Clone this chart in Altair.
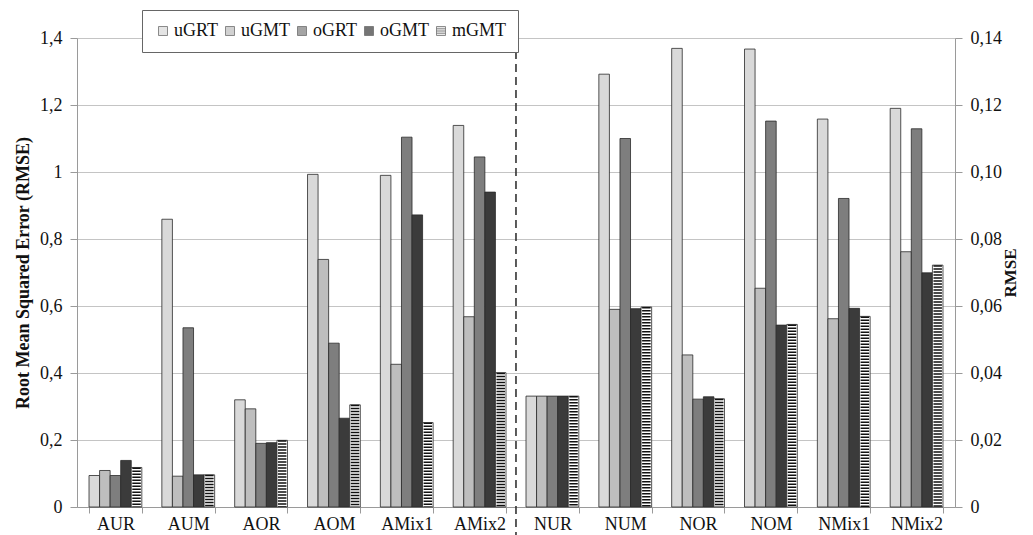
import altair as alt
import pandas as pd

categories = ["AUR", "AUM", "AOR", "AOM", "AMix1", "AMix2",
              "NUR", "NUM", "NOR", "NOM", "NMix1", "NMix2"]
sections = ["A"] * 6 + ["N"] * 6
series = ["uGRT", "uGMT", "oGRT", "oGMT", "mGMT"]

# A-groups read on the left axis (0-1.4), N-groups on the right axis (0-0.14)
uGRT = [0.094, 0.859, 0.320, 0.993, 0.990, 1.139, 0.0331, 0.1292, 0.1369, 0.1367, 0.1158, 0.1190]
uGMT = [0.109, 0.092, 0.293, 0.739, 0.426, 0.568, 0.0331, 0.0590, 0.0454, 0.0653, 0.0562, 0.0762]
oGRT = [0.094, 0.535, 0.190, 0.489, 1.104, 1.045, 0.0331, 0.1100, 0.0322, 0.1152, 0.0921, 0.1129]
oGMT = [0.139, 0.096, 0.192, 0.265, 0.872, 0.940, 0.0331, 0.0592, 0.0329, 0.0543, 0.0593, 0.0699]
mGMT = [0.118, 0.096, 0.199, 0.305, 0.252, 0.401, 0.0331, 0.0597, 0.0323, 0.0545, 0.0569, 0.0722]

left_ticks = [0, 0.2, 0.4, 0.6, 0.8, 1.0, 1.2, 1.4]
right_ticks = [0, 0.02, 0.04, 0.06, 0.08, 0.10, 0.12, 0.14]
fills = ["#d9d9d9", "#bebebe", "#7e7e7e", "#3b3b3b", "#ffffff"]
square_path = "M-1,-1H1V1H-1Z"
stripe_path = "M-1,-1H1V1H-1Z M-1,-0.6H1 M-1,-0.2H1 M-1,0.2H1 M-1,0.6H1"
shapes = [square_path, square_path, square_path, square_path, stripe_path]

rows = []
for s, vals in zip(series, [uGRT, uGMT, oGRT, oGMT, mGMT]):
    for c, sec, v in zip(categories, sections, vals):
        rows.append({"category": c, "section": sec, "series": s, "value": v, "zero": 0})
df = pd.DataFrame(rows)

FONT = "Liberation Serif"
W, H = 878, 469

x_scale = alt.Scale(domain=categories, paddingInner=0.275, paddingOuter=0.165)
x_enc = alt.X("category:N", sort=categories, scale=x_scale,
              axis=alt.Axis(title=None, labelAngle=0, tickBand="extent", domainColor="#9a9a9a",
                            tickColor="#9a9a9a", tickSize=6, labelFont=FONT, labelFontSize=18,
                            labelColor="#111", labelPadding=2))
xo_enc = alt.XOffset("series:N", sort=series,
                     scale=alt.Scale(domain=series, paddingInner=0, paddingOuter=0))

left_axis = alt.Axis(orient="left", values=left_ticks,
                     labelExpr="replace(format(datum.value, '~g'), '.', ',')",
                     grid=True, gridColor="#c4c4c4", domainColor="#9a9a9a", tickColor="#9a9a9a",
                     tickSize=7, labelFont=FONT, labelFontSize=18, labelColor="#111", labelPadding=8,
                     title="Root Mean Squared Error (RMSE)", titleFont=FONT, titleFontSize=18,
                     titleFontWeight="bold", titleColor="#111", titlePadding=7)
right_axis = alt.Axis(orient="right", values=right_ticks,
                      labelExpr="datum.value == 0 ? '0' : replace(format(datum.value, '.2f'), '.', ',')",
                      grid=False, domainColor="#9a9a9a", tickColor="#9a9a9a",
                      tickSize=7, labelFont=FONT, labelFontSize=18, labelColor="#111", labelPadding=8,
                      title="RMSE", titleFont=FONT, titleFontSize=17, titleFontWeight="bold",
                      titleColor="#111", titleAngle=270, titlePadding=18)

legend = alt.Legend(orient="none", legendX=65, legendY=-28, direction="horizontal", title=None,
                    strokeColor="#666", fillColor="white", padding=12, gridAlign="none",
                    labelFont=FONT, labelFontSize=18, labelColor="#111", symbolSize=81,
                    symbolStrokeColor="#333", symbolStrokeWidth=0.8,
                    columnPadding=3, labelOffset=2)
color_enc = alt.Color("series:N", sort=series, scale=alt.Scale(domain=series, range=fills),
                      legend=legend)
shape_enc = alt.Shape("series:N", sort=series, scale=alt.Scale(domain=series, range=shapes),
                      legend=legend)

base = alt.Chart(df)


def half(sec, domain, axis, extra=None):
    d = base.transform_filter(alt.datum.section == sec)
    y = alt.Y("value:Q", scale=alt.Scale(domain=domain, nice=False, zero=True), axis=axis)
    bars = d.mark_bar(stroke="#2a2a2a", strokeWidth=0.8).encode(
        x=x_enc, xOffset=xo_enc, y=y, color=color_enc)
    stripes = d.transform_filter(alt.datum.series == "mGMT").mark_rule(
        color="#111", strokeWidth=8.5, strokeDash=[1.5, 1.5]).encode(
        x=x_enc, xOffset=xo_enc, y=y, y2="zero:Q")
    layers = [bars, stripes]
    if extra is not None:
        layers += extra
    return alt.layer(*layers)


keys = base.transform_filter(alt.datum.section == "A").mark_point(
    filled=True, size=0, stroke="#333", strokeWidth=0.8).encode(
    x=x_enc, xOffset=xo_enc,
    y=alt.Y("value:Q", scale=alt.Scale(domain=[0, 1.4], nice=False), axis=left_axis),
    color=color_enc, shape=shape_enc)

sep = alt.Chart(pd.DataFrame({"k": [0]})).mark_rule(
    color="#333", strokeWidth=1.6, strokeDash=[8, 5]).encode(
    x=alt.X(datum="AMix2", type="nominal", scale=x_scale),
    xOffset=alt.value(62.8),
    y=alt.value(0), y2=alt.value(H + 30))

left = half("A", [0, 1.4], left_axis, [keys, sep])
right = half("N", [0, 0.14], right_axis)

chart = alt.layer(left, right).resolve_scale(y="independent").properties(
    width=W, height=H, padding={"left": 6, "top": 1, "right": 5, "bottom": 2}
).configure_view(stroke=None).configure(background="white")

chart.save("out.html", embed_options={"renderer": "svg", "actions": False})
